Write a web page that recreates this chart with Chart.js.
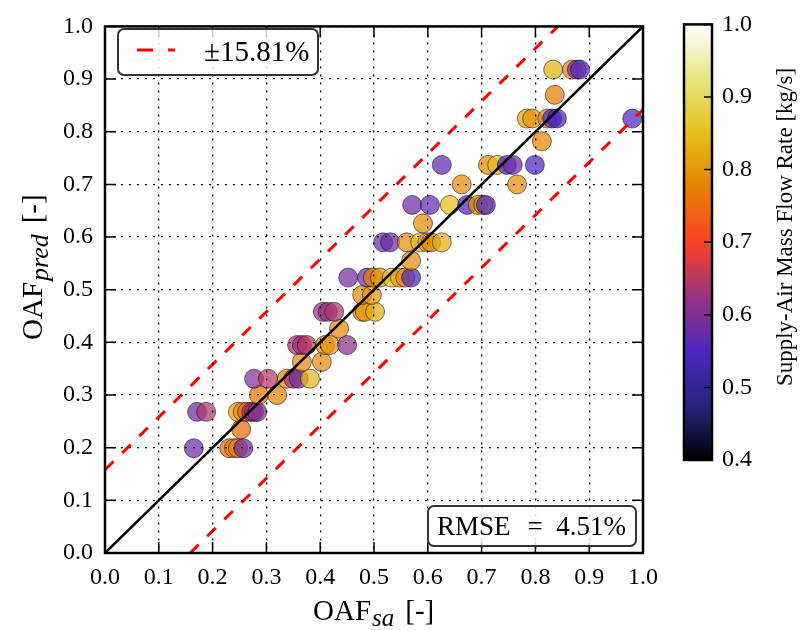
<!DOCTYPE html>
<html>
<head>
<meta charset="utf-8">
<script src="https://cdn.jsdelivr.net/npm/chart.js@4.4.0/dist/chart.umd.min.js"></script>
<style>
body { margin:0; background:#fff; }
#wrap { position:relative; width:801px; height:630px; }
#main { position:absolute; left:0; top:0; }
#cbar { position:absolute; left:640px; top:0; }
</style>
</head>
<body>
<div id="wrap">
<canvas id="main" width="801" height="630"></canvas>
<canvas id="cbar" width="161" height="630"></canvas>
</div>
<script>
// measured (x) vs predicted (y) outdoor air fraction, coloured by supply-air mass flow
var oafSa = [
  0.165, 0.231, 0.240, 0.247, 0.257,
  0.253,
  0.171, 0.188, 0.247, 0.256, 0.264, 0.272, 0.277, 0.283,
  0.286, 0.320,
  0.277, 0.303, 0.338, 0.350, 0.360, 0.381,
  0.366, 0.403,
  0.357, 0.366, 0.375, 0.409, 0.418, 0.450,
  0.435,
  0.405, 0.414, 0.426, 0.478, 0.483, 0.502,
  0.478, 0.496,
  0.452, 0.487, 0.498, 0.511, 0.533, 0.548, 0.558, 0.569,
  0.569,
  0.517, 0.530, 0.561, 0.586, 0.599, 0.606, 0.626,
  0.591,
  0.571, 0.604, 0.641, 0.673, 0.693, 0.703, 0.708,
  0.663, 0.766,
  0.626, 0.712, 0.729, 0.747, 0.758, 0.799,
  0.812,
  0.784, 0.794, 0.822, 0.831, 0.840, 0.980,
  0.836,
  0.833, 0.868, 0.877, 0.883
];
var oafPred = [
  0.199, 0.199, 0.199, 0.199, 0.199,
  0.235,
  0.268, 0.268, 0.268, 0.268, 0.268, 0.268, 0.268, 0.268,
  0.300, 0.300,
  0.331, 0.331, 0.331, 0.331, 0.331, 0.331,
  0.363, 0.363,
  0.395, 0.395, 0.395, 0.395, 0.395, 0.395,
  0.426,
  0.458, 0.458, 0.458, 0.458, 0.458, 0.458,
  0.490, 0.490,
  0.523, 0.523, 0.523, 0.523, 0.523, 0.523, 0.523, 0.523,
  0.555,
  0.590, 0.590, 0.590, 0.590, 0.590, 0.590, 0.590,
  0.626,
  0.661, 0.661, 0.661, 0.661, 0.661, 0.661, 0.661,
  0.700, 0.700,
  0.737, 0.737, 0.737, 0.737, 0.737, 0.737,
  0.782,
  0.825, 0.825, 0.825, 0.825, 0.825, 0.825,
  0.870,
  0.918, 0.918, 0.918, 0.918
];
var massFlow = [
  0.58, 0.75, 0.79, 0.78, 0.58,
  0.75,
  0.58, 0.64, 0.82, 0.79, 0.75, 0.65, 0.62, 0.60,
  0.76, 0.78,
  0.60, 0.65, 0.79, 0.63, 0.59, 0.84,
  0.79, 0.79,
  0.64, 0.62, 0.65, 0.79, 0.80, 0.61,
  0.79,
  0.62, 0.62, 0.64, 0.79, 0.80, 0.83,
  0.79, 0.80,
  0.59, 0.58, 0.78, 0.80, 0.86, 0.81, 0.79, 0.55,
  0.79,
  0.58, 0.58, 0.79, 0.86, 0.80, 0.79, 0.83,
  0.79,
  0.58, 0.57, 0.85, 0.55, 0.80, 0.80, 0.55,
  0.79, 0.79,
  0.57, 0.79, 0.85, 0.55, 0.58, 0.55,
  0.78,
  0.82, 0.80, 0.79, 0.55, 0.54, 0.55,
  0.77,
  0.83, 0.78, 0.60, 0.56
];
var bandPct = 15.81;   // +/- band around the 1:1 line
var rmsePct = 4.51;
var axisTicks = [0, 0.1, 0.2, 0.3, 0.4, 0.5, 0.6, 0.7, 0.8, 0.9, 1.0];
var cbTicks = [0.4, 0.5, 0.6, 0.7, 0.8, 0.9, 1.0];

var serif = '"Liberation Serif", "DejaVu Serif", serif';

// CMRmap
var cmrR = [0, 0.15, 0.30, 0.60, 1.00, 0.90, 0.90, 0.90, 1.00];
var cmrG = [0, 0.15, 0.15, 0.20, 0.25, 0.50, 0.75, 0.90, 1.00];
var cmrB = [0, 0.50, 0.75, 0.50, 0.15, 0.00, 0.10, 0.50, 1.00];
var cmr = function(t, alpha){
    t = Math.max(0, Math.min(1, t));
    var f = t * 8, i = Math.min(7, Math.floor(f)), u = f - i;
    var r = Math.round(255 * (cmrR[i] + (cmrR[i+1] - cmrR[i]) * u));
    var g = Math.round(255 * (cmrG[i] + (cmrG[i+1] - cmrG[i]) * u));
    var b = Math.round(255 * (cmrB[i] + (cmrB[i+1] - cmrB[i]) * u));
    return 'rgba(' + r + ',' + g + ',' + b + ',' + alpha + ')';
};
var cbMin = cbTicks[0], cbMax = cbTicks[cbTicks.length - 1];

var points = [], colors = [];
for (var i = 0; i < oafSa.length; i++) {
    points.push({x: oafSa[i], y: oafPred[i]});
    colors.push(cmr((massFlow[i] - cbMin) / (cbMax - cbMin), 0.72));
}
var b = bandPct / 100;
var diag = [{x: 0, y: 0}, {x: 1, y: 1}];
var upper = [{x: 0, y: b}, {x: 1 - b, y: 1}];
var lower = [{x: b, y: 0}, {x: 1, y: 1 - b}];

var drawMixed = function(ctx, x, y, parts){
    parts.forEach(function(p){
        ctx.font = p.font;
        ctx.fillText(p.t, x, y + (p.dy || 0));
        x += ctx.measureText(p.t).width + (p.gap || 0);
    });
};

var framePlugin = {
    id: 'frame',
    afterDraw: function(chart){
        var ctx = chart.ctx, a = chart.chartArea, sx = chart.scales.x, sy = chart.scales.y;
        ctx.save();
        ctx.strokeStyle = '#000';
        ctx.lineWidth = 1.5;
        ctx.beginPath();
        axisTicks.forEach(function(v){
            var px = sx.getPixelForValue(v), py = sy.getPixelForValue(v);
            ctx.moveTo(px, a.bottom); ctx.lineTo(px, a.bottom - 11);
            ctx.moveTo(px, a.top); ctx.lineTo(px, a.top + 11);
            ctx.moveTo(a.left, py); ctx.lineTo(a.left + 11, py);
            ctx.moveTo(a.right, py); ctx.lineTo(a.right - 11, py);
        });
        ctx.stroke();
        ctx.lineWidth = 2.5;
        ctx.strokeRect(a.left, a.top, a.right - a.left, a.bottom - a.top);

        // legend box
        ctx.fillStyle = 'rgba(255,255,255,0.8)';
        ctx.strokeStyle = '#333';
        ctx.lineWidth = 2;
        ctx.beginPath();
        ctx.roundRect(118, 29, 200, 46, 6);
        ctx.fill(); ctx.stroke();
        ctx.strokeStyle = '#ff0000';
        ctx.lineWidth = 3;
        ctx.setLineDash([16, 15]);
        ctx.beginPath();
        ctx.moveTo(137, 50); ctx.lineTo(175, 50);
        ctx.stroke();
        ctx.setLineDash([]);
        ctx.fillStyle = '#000';
        ctx.font = '29px ' + serif;
        ctx.textBaseline = 'alphabetic';
        ctx.textAlign = 'left';
        ctx.fillText('\u00b1' + bandPct.toFixed(2) + '%', 204, 61);

        // RMSE box
        ctx.fillStyle = 'rgba(255,255,255,0.8)';
        ctx.strokeStyle = '#333';
        ctx.lineWidth = 2;
        ctx.beginPath();
        ctx.roundRect(428, 506, 208, 40, 6);
        ctx.fill(); ctx.stroke();
        ctx.fillStyle = '#000';
        ctx.font = '27px ' + serif;
        ctx.fillText('RMSE', 437, 535);
        ctx.textAlign = 'right';
        ctx.fillText('=  ' + rmsePct.toFixed(2) + '%', 626, 535);

        // axis titles
        ctx.textAlign = 'left';
        drawMixed(ctx, 313, 620, [
            {t: 'OAF', font: '29px ' + serif, gap: 1},
            {t: 'sa', font: 'italic 25px ' + serif, dy: 6, gap: 11},
            {t: '[-]', font: '29px ' + serif}
        ]);
        ctx.translate(42, 340);
        ctx.rotate(-Math.PI / 2);
        drawMixed(ctx, 0, 0, [
            {t: 'OAF', font: '29px ' + serif, gap: 1},
            {t: 'pred', font: 'italic 26px ' + serif, dy: 6, gap: 11},
            {t: '[-]', font: '29px ' + serif}
        ]);
        ctx.restore();
    }
};

var tickFont = {family: serif, size: 24};
var mainChart = new Chart(document.getElementById('main').getContext('2d'), {
    type: 'scatter',
    data: {
        datasets: [
            {type: 'line', data: diag, borderColor: '#000', borderWidth: 2.5, pointRadius: 0, order: 0},
            {type: 'line', data: upper, borderColor: '#ff0000', borderWidth: 3, borderDash: [12, 12], pointRadius: 0, order: 0},
            {type: 'line', data: lower, borderColor: '#ff0000', borderWidth: 3, borderDash: [12, 12], pointRadius: 0, order: 0},
            {data: points, pointRadius: 9.5, backgroundColor: colors, borderColor: 'rgba(0,0,0,0.65)', borderWidth: 0.8, order: 1}
        ]
    },
    options: {
        responsive: false,
        animation: false,
        layout: {padding: {top: 16, right: 158, left: 0, bottom: 0}},
        plugins: {legend: {display: false}, tooltip: {enabled: false}},
        scales: {
            x: {
                type: 'linear', min: 0, max: 1,
                ticks: {stepSize: 0.1, color: '#000', font: tickFont, padding: 10, maxRotation: 0,
                    callback: function(v){ return v.toFixed(1); }},
                grid: {color: '#000', lineWidth: 1.3, drawTicks: false, z: 1},
                border: {display: false, dash: [2, 6]},
                afterFit: function(s){ s.height = 77; }
            },
            y: {
                type: 'linear', min: 0, max: 1,
                ticks: {stepSize: 0.1, color: '#000', font: tickFont, padding: 12,
                    callback: function(v){ return v.toFixed(1); }},
                grid: {color: '#000', lineWidth: 1.3, drawTicks: false, z: 1},
                border: {display: false, dash: [2, 6]},
                afterFit: function(s){ s.width = 105; }
            }
        }
    },
    plugins: [framePlugin]
});

// colour bar
var cbPlugin = {
    id: 'cbframe',
    afterDraw: function(chart){
        var ctx = chart.ctx, a = chart.chartArea, sy = chart.scales.y;
        ctx.save();
        ctx.strokeStyle = '#000';
        ctx.lineWidth = 1.5;
        ctx.beginPath();
        cbTicks.forEach(function(v){
            var py = sy.getPixelForValue(v);
            ctx.moveTo(a.right, py); ctx.lineTo(a.right - 8, py);
        });
        ctx.stroke();
        ctx.lineWidth = 2.5;
        ctx.strokeRect(a.left, a.top, a.right - a.left, a.bottom - a.top);
        ctx.fillStyle = '#000';
        ctx.font = '23px ' + serif;
        ctx.textAlign = 'center';
        ctx.textBaseline = 'alphabetic';
        ctx.translate(152, 227);
        ctx.rotate(-Math.PI / 2);
        ctx.fillText('Supply-Air Mass Flow Rate [kg/s]', 0, 0);
        ctx.restore();
    }
};

var cbChart = new Chart(document.getElementById('cbar').getContext('2d'), {
    type: 'bar',
    data: {
        labels: ['m'],
        datasets: [{
            data: [[cbMin, cbMax]],
            backgroundColor: function(c){
                var ch = c.chart, a = ch.chartArea;
                if (!a) return '#888';
                var g = ch.ctx.createLinearGradient(0, a.bottom, 0, a.top);
                for (var k = 0; k <= 8; k++) g.addColorStop(k / 8, cmr(k / 8, 1));
                return g;
            },
            borderWidth: 0,
            barPercentage: 1,
            categoryPercentage: 1
        }]
    },
    options: {
        responsive: false,
        animation: false,
        layout: {padding: {left: 44, top: 14, bottom: 170, right: 0}},
        plugins: {legend: {display: false}, tooltip: {enabled: false}},
        scales: {
            x: {display: false},
            y: {
                position: 'right', min: cbMin, max: cbMax,
                ticks: {stepSize: 0.1, color: '#000', font: tickFont, padding: 10,
                    callback: function(v){ return v.toFixed(1); }},
                grid: {display: false, drawTicks: false},
                border: {display: false},
                afterFit: function(s){ s.width = 89; }
            }
        }
    },
    plugins: [cbPlugin]
});
</script>
</body>
</html>
